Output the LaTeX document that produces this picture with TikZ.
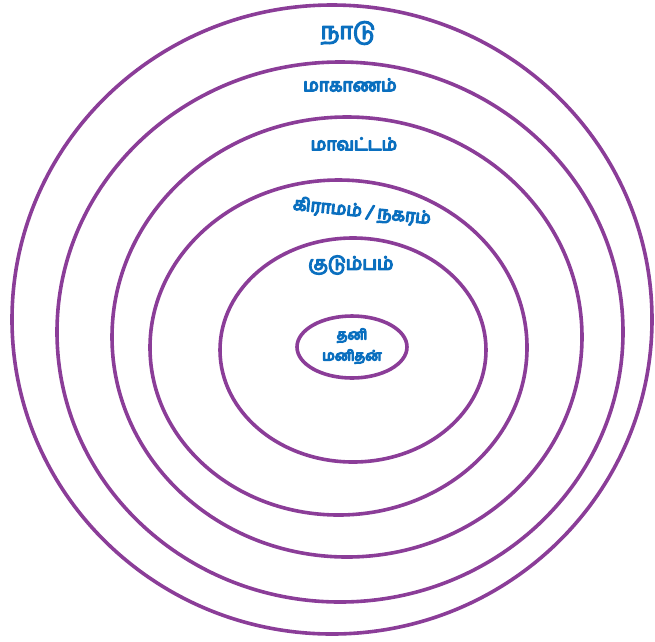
\documentclass[tikz,border=0pt]{standalone}
\usepackage{fontspec}
\newfontfamily\tamil[Script=Tamil]{Hind Madurai}
\definecolor{ringc}{HTML}{8B3D98}
\definecolor{textc}{HTML}{0A6FBF}
\newcommand\heavytxt[1]{\special{pdf:literal direct 2 Tr 1.3 w 1 j}#1\special{pdf:literal direct 0 Tr}}
\tikzset{
  ring/.style={draw=ringc, line width=3.6pt},
  lbl/.style={text=textc, font=\tamil, inner sep=0pt, align=center},
}
\begin{document}
\begin{tikzpicture}[x=1pt,y=-1pt]
\useasboundingbox (0,0) rectangle (655,641);
\draw[ring] (332,319.5) ellipse [x radius=320, y radius=314.5];
\draw[ring] (340,332) ellipse [x radius=283, y radius=270];
\draw[ring] (347,337) ellipse [x radius=235, y radius=220];
\draw[ring] (338.5,347.5) ellipse [x radius=188.5, y radius=167.5];
\draw[ring] (353,350) ellipse [x radius=133, y radius=112];
\draw[ring] (352,347) ellipse [x radius=55, y radius=31];
\node[lbl, font=\tamil\fontsize{23}{26}\selectfont] (nadu) at (348,33) {\heavytxt{நாடு}};
\node[lbl, font=\tamil\fontsize{17.5}{20}\selectfont] (makanam) at (350,85) {\heavytxt{மாகாணம்}};
\node[lbl, font=\tamil\fontsize{17.5}{20}\selectfont] (mavattam) at (354,144) {\heavytxt{மாவட்டம்}};
\node[lbl, font=\tamil\fontsize{17.5}{21}\selectfont, rotate=-6] (gramam) at (362,212) {\heavytxt{கிராமம் / நகரம்}};
\node[lbl, font=\tamil\fontsize{18.5}{21}\selectfont] (kudumbam) at (351,265) {\heavytxt{குடும்பம்}};
\node[lbl, font=\tamil\fontsize{14}{21}\selectfont] (thani) at (352,346) {\heavytxt{தனி}\\\heavytxt{மனிதன்}};
\end{tikzpicture}
\end{document}
